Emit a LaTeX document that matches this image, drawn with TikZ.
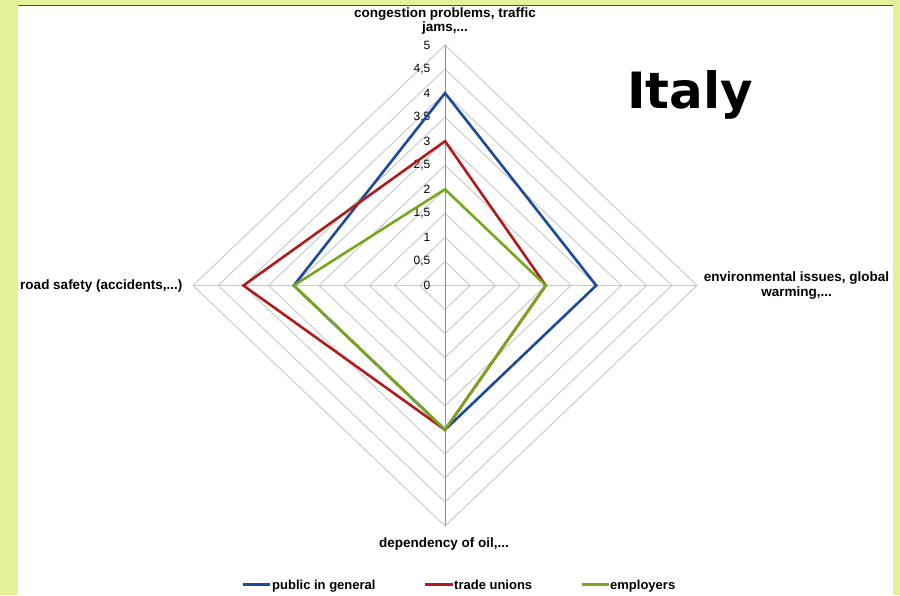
\documentclass[tikz,border=0pt]{standalone}
\usepackage{fontspec}
\setmainfont{Liberation Sans}
\newfontfamily\italyfont{DejaVu Sans}
\newlength{\du}
\setlength{\du}{1pt}
\definecolor{panelgreen}{rgb}{0.890000, 0.949000, 0.600000}
\definecolor{framegray}{rgb}{0.300000, 0.300000, 0.300000}
\definecolor{gridgray}{rgb}{0.780000, 0.780000, 0.780000}
\definecolor{axisgray}{rgb}{0.560000, 0.560000, 0.560000}
\definecolor{publicblue}{rgb}{0.110000, 0.290000, 0.620000}
\definecolor{unionred}{rgb}{0.690000, 0.110000, 0.110000}
\definecolor{employergreen}{rgb}{0.470000, 0.650000, 0.110000}
\tikzset{
  ring/.style={draw=gridgray, line width=0.900000\du, line join=miter},
  series/.style={line width=2.600000\du, line join=miter},
  ticklabel/.style={anchor=east, inner sep=0pt, font=\fontsize{12}{13}\selectfont},
  catlabel/.style={anchor=base, inner sep=0pt, align=center, font=\fontsize{13.5}{14.5}\selectfont\bfseries},
  legendlabel/.style={anchor=base west, inner sep=0pt, font=\fontsize{13}{14.5}\selectfont\bfseries}
}

\begin{document}
\begin{tikzpicture}
\pgftransformxscale{1.000000}
\pgftransformyscale{-1.000000}
\useasboundingbox (0.000000\du,0.000000\du) rectangle (900.000000\du,595.000000\du);
% panel
\fill[panelgreen] (0.000000\du,0.000000\du) rectangle (900.000000\du,595.000000\du);
\fill[white] (18.000000\du,5.000000\du) rectangle (893.000000\du,595.000000\du);
\draw[framegray, line width=1.000000\du] (18.000000\du,5.000000\du)--(893.000000\du,5.000000\du);
% rings
\draw[ring] (445.000000\du,261.450000\du)--(470.200000\du,285.500000\du)--(445.000000\du,309.550000\du)--(419.800000\du,285.500000\du)--cycle;
\draw[ring] (445.000000\du,237.400000\du)--(495.400000\du,285.500000\du)--(445.000000\du,333.600000\du)--(394.600000\du,285.500000\du)--cycle;
\draw[ring] (445.000000\du,213.350000\du)--(520.600000\du,285.500000\du)--(445.000000\du,357.650000\du)--(369.400000\du,285.500000\du)--cycle;
\draw[ring] (445.000000\du,189.300000\du)--(545.800000\du,285.500000\du)--(445.000000\du,381.700000\du)--(344.200000\du,285.500000\du)--cycle;
\draw[ring] (445.000000\du,165.250000\du)--(571.000000\du,285.500000\du)--(445.000000\du,405.750000\du)--(319.000000\du,285.500000\du)--cycle;
\draw[ring] (445.000000\du,141.200000\du)--(596.200000\du,285.500000\du)--(445.000000\du,429.800000\du)--(293.800000\du,285.500000\du)--cycle;
\draw[ring] (445.000000\du,117.150000\du)--(621.400000\du,285.500000\du)--(445.000000\du,453.850000\du)--(268.600000\du,285.500000\du)--cycle;
\draw[ring] (445.000000\du,93.100000\du)--(646.600000\du,285.500000\du)--(445.000000\du,477.900000\du)--(243.400000\du,285.500000\du)--cycle;
\draw[ring] (445.000000\du,69.050000\du)--(671.800000\du,285.500000\du)--(445.000000\du,501.950000\du)--(218.200000\du,285.500000\du)--cycle;
\draw[ring] (445.000000\du,45.000000\du)--(697.000000\du,285.500000\du)--(445.000000\du,526.000000\du)--(193.000000\du,285.500000\du)--cycle;
% spokes
\draw[ring] (193.000000\du,285.500000\du)--(697.000000\du,285.500000\du);
\draw[axisgray, line width=0.900000\du] (445.000000\du,45.000000\du)--(445.000000\du,526.000000\du);
% scale
\node[ticklabel] (tick0) at (430.500000\du,285.500000\du){0};
\node[ticklabel] (tick05) at (430.500000\du,261.450000\du){0,5};
\node[ticklabel] (tick1) at (430.500000\du,237.400000\du){1};
\node[ticklabel] (tick15) at (430.500000\du,213.350000\du){1,5};
\node[ticklabel] (tick2) at (430.500000\du,189.300000\du){2};
\node[ticklabel] (tick25) at (430.500000\du,165.250000\du){2,5};
\node[ticklabel] (tick3) at (430.500000\du,141.200000\du){3};
\node[ticklabel] (tick35) at (430.500000\du,117.150000\du){3,5};
\node[ticklabel] (tick4) at (430.500000\du,93.100000\du){4};
\node[ticklabel] (tick45) at (430.500000\du,69.050000\du){4,5};
\node[ticklabel] (tick5) at (430.500000\du,45.000000\du){5};
% series
\draw[series, publicblue] (445.000000\du,93.100000\du)--(596.200000\du,285.500000\du)--(445.000000\du,429.800000\du)--(293.800000\du,285.500000\du)--cycle;
\draw[series, unionred] (445.000000\du,141.200000\du)--(545.800000\du,285.500000\du)--(445.000000\du,429.800000\du)--(243.400000\du,285.500000\du)--cycle;
\draw[series, employergreen] (445.000000\du,189.300000\du)--(545.800000\du,285.500000\du)--(445.000000\du,429.800000\du)--(293.800000\du,285.500000\du)--cycle;
% axis labels
\node[catlabel] (congestion) at (445.000000\du,31.500000\du){congestion problems, traffic\\jams,...};
\node[catlabel] (environment) at (796.500000\du,296.000000\du){environmental issues, global\\warming,...};
\node[catlabel] (oil) at (444.000000\du,547.000000\du){dependency of oil,...};
\node[catlabel, anchor=base east] (safety) at (182.500000\du,289.500000\du){road safety (accidents,...)};
% title
\node[anchor=base west, inner sep=0pt, font=\italyfont\bfseries\fontsize{50}{55}\selectfont] (italy) at (627.000000\du,108.000000\du){Italy};
% legend
\coordinate (publicA) at (243.000000\du,584.500000\du);
\coordinate (publicB) at (270.000000\du,584.500000\du);
\draw[series, publicblue] (publicA)--(publicB);
\node[legendlabel] (public) at (272.000000\du,589.000000\du){public in general};
\coordinate (unionA) at (425.000000\du,584.500000\du);
\coordinate (unionB) at (453.000000\du,584.500000\du);
\draw[series, unionred] (unionA)--(unionB);
\node[legendlabel] (unions) at (454.000000\du,589.000000\du){trade unions};
\coordinate (employerA) at (582.000000\du,584.500000\du);
\coordinate (employerB) at (609.000000\du,584.500000\du);
\draw[series, employergreen] (employerA)--(employerB);
\node[legendlabel] (employers) at (610.000000\du,589.000000\du){employers};
\end{tikzpicture}
\end{document}
